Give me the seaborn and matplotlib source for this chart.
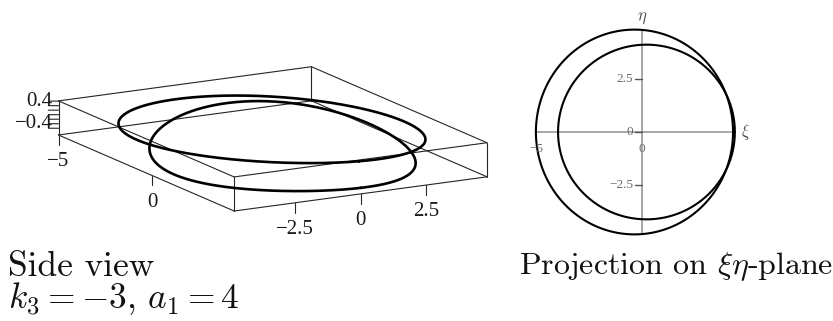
import numpy as np
import pandas as pd
import matplotlib
matplotlib.use("Agg")
import matplotlib.pyplot as plt
import seaborn as sns
from mpl_toolkits.mplot3d import proj3d

# Two closed curves: ellipses in the (xi, eta) plane with a tilted z component
curve_names = ["outer", "inner"]
xi_center = [-0.355, 0.21]
eta_center = [0.0, 0.0]
xi_radius = [4.65, 4.17]
eta_radius = [4.83, 4.12]
z_mean = [0.091, -0.48]
z_amp = [0.281, 0.30]
z_phase_deg = [-40.0, 140.0]
z_amp2 = [0.039, 0.18]
z_phase2_deg = [156.0, 157.0]

# Tick values
xi_ticks_3d = [-5, 0]
eta_ticks_3d = [-2.5, 0, 2.5]
z_ticks_3d = [0.4, 0.24, 0.08, -0.08, -0.24, -0.4, -0.56]
z_tick_labels = [0.4, -0.4]
eta_ticks_2d = [2.5, 0, -2.5]
xi_ticks_2d = [-5, 0]

caption_side = ["Side view", r"$k_3 = -3,\, a_1 = 4$"]
caption_proj = r"Projection on $\xi\eta$-plane"

sns.set_theme(style="white")
plt.rcParams["mathtext.fontset"] = "cm"
plt.rcParams["font.family"] = ["Liberation Serif", "DejaVu Serif"]

t = np.linspace(0.0, 2.0 * np.pi, 721)
frames = []
for i, name in enumerate(curve_names):
    frames.append(pd.DataFrame({
        "curve": name,
        "t": t,
        "xi": xi_center[i] + xi_radius[i] * np.cos(t),
        "eta": eta_center[i] + eta_radius[i] * np.sin(t),
        "z": (z_mean[i]
              + z_amp[i] * np.cos(t - np.deg2rad(z_phase_deg[i]))
              + z_amp2[i] * np.cos(2 * (t - np.deg2rad(z_phase2_deg[i])))),
    }))
df = pd.concat(frames, ignore_index=True)

W, H = 833, 321
fig = plt.figure(figsize=(W / 100, H / 100), dpi=100)
fig.patch.set_facecolor("white")


def mstr(v):
    return f"{v:g}".replace("-", "\u2212")


def hide_titles(ax):
    for tt in (ax.title, ax._left_title, ax._right_title):
        tt.set_visible(False)


# ---------------- side view (3D, boxed) ----------------
S0, c0 = 300.0, np.array([270.0, 160.0])
ax3 = fig.add_axes([(c0[0] - S0 / 2) / W, (c0[1] - S0 / 2) / H, S0 / W, S0 / H],
                   projection="3d", proj_type="ortho")
ax3.set_xticks([])
ax3.set_yticks([])
ax3.set_zticks([])
ax3.set_axis_off()
hide_titles(ax3)
ax3.view_init(elev=14.0, azim=-29.2)
ax3.set_box_aspect((358.6, 288.6, 35.0))

xlo, xhi = df["xi"].min(), df["xi"].max()
ylo, yhi = df["eta"].min(), df["eta"].max()
zlo, zhi = df["z"].min(), df["z"].max()
ax3.set_xlim(xlo, xhi)
ax3.set_ylim(ylo, yhi)
ax3.set_zlim(zlo, zhi)

# all twelve edges of the bounding box
box_kw = dict(color="#262626", lw=0.8)
X, Y, Z = [xlo, xhi], [ylo, yhi], [zlo, zhi]
for yy in Y:
    for zz in Z:
        ax3.plot(X, [yy, yy], [zz, zz], **box_kw)
for xx in X:
    for zz in Z:
        ax3.plot([xx, xx], Y, [zz, zz], **box_kw)
for xx in X:
    for yy in Y:
        ax3.plot([xx, xx], [yy, yy], Z, **box_kw)

for name, g in df.groupby("curve", sort=False):
    ax3.plot(g["xi"], g["eta"], g["z"], color="black", lw=1.9)

zspan = zhi - zlo
tick_dz = 0.29 * zspan
label_dz = 0.78 * zspan
lab_kw = dict(fontsize=15, color="#1a1a1a", ha="center", va="center")
for v in xi_ticks_3d:
    ax3.plot([v, v], [ylo, ylo], [zlo, zlo - tick_dz], **box_kw)
    ax3.text(v, ylo, zlo - label_dz, mstr(v), **lab_kw)
for v in eta_ticks_3d:
    ax3.plot([xhi, xhi], [v, v], [zlo, zlo - tick_dz], **box_kw)
    ax3.text(xhi, v, zlo - label_dz, mstr(v), **lab_kw)
dxi, deta = -0.128, -0.296
for v in z_ticks_3d:
    ax3.plot([xlo, xlo + dxi], [ylo, ylo + deta], [v, v], **box_kw)
for v in z_tick_labels:
    ax3.text(xlo + 0.6 * dxi, ylo + 0.6 * deta, v, mstr(v), fontsize=15,
             color="#1a1a1a", ha="right", va="center")


def project(ax, pts):
    M = ax.get_proj()
    xs, ys, _ = proj3d.proj_transform(pts[:, 0], pts[:, 1], pts[:, 2], M)
    return ax.transData.transform(np.column_stack([xs, ys]))


# scale and place the box so its left-bottom and right-bottom corners land
# at the wanted pixel positions
fig.canvas.draw()
corners = np.array([[xlo, ylo, zlo], [xhi, yhi, zlo]])
p = project(ax3, corners)
targets = np.array([[58.5, H - 135.0], [487.0, H - 177.0]])
k = np.linalg.norm(targets[1] - targets[0]) / np.linalg.norm(p[1] - p[0])
S1 = S0 * k
c1 = targets[0] - k * (p[0] - c0)
ax3.set_position([(c1[0] - S1 / 2) / W, (c1[1] - S1 / 2) / H, S1 / W, S1 / H])

# ---------------- projection on the xi-eta plane ----------------
ppu = 21.2
ox, oy = 642.0, 132.0
x0, x1, y0, y1 = -5.5, 5.5, -5.2, 5.2
ax2 = fig.add_axes([(ox + x0 * ppu) / W, (H - oy + y0 * ppu) / H,
                    (x1 - x0) * ppu / W, (y1 - y0) * ppu / H])
ax2.set_xlim(x0, x1)
ax2.set_ylim(y0, y1)

axis_col = "#8f8f8f"
ax2.plot([xlo, xhi], [0, 0], color=axis_col, lw=1.1, zorder=1)
ax2.plot([0, 0], [ylo, yhi], color=axis_col, lw=1.1, zorder=1)
sns.lineplot(data=df, x="xi", y="eta", units="curve", estimator=None,
             sort=False, color="black", lw=1.5, ax=ax2, legend=False, zorder=3)
ax2.set_xlabel("")
ax2.set_ylabel("")
ax2.set_xticks([])
ax2.set_yticks([])
ax2.set_axis_off()
hide_titles(ax2)

small_kw = dict(fontsize=9.5, color="#6a6a6a")
for v in eta_ticks_2d:
    ax2.plot([-0.33, 0], [v, v], color="#555555", lw=1.0, zorder=2)
    ax2.text(-0.42, v, mstr(v), ha="right", va="center", **small_kw)
for v in xi_ticks_2d:
    ax2.text(v, -0.78, mstr(v), ha="center", va="center", **small_kw)
ax2.text(xhi + 0.5, 0, r"$\xi$", ha="center", va="center", fontsize=12,
         color="#4a4a4a")
ax2.text(0, yhi + 0.55, r"$\eta$", ha="center", va="center", fontsize=12,
         color="#4a4a4a")

# ---------------- captions ----------------
fig.text(8 / W, (H - 276) / H, caption_side[0], ha="left", va="baseline",
         fontsize=25.5, color="#111111", family="cmr10")
fig.text(8 / W, (H - 308) / H, caption_side[1], ha="left", va="baseline",
         fontsize=25.5, color="#111111", family="cmr10")
fig.text(519 / W, (H - 274) / H, caption_proj, ha="left", va="baseline",
         fontsize=23, color="#111111", family="cmr10")

fig.savefig("out.png", dpi=100, facecolor="white")
